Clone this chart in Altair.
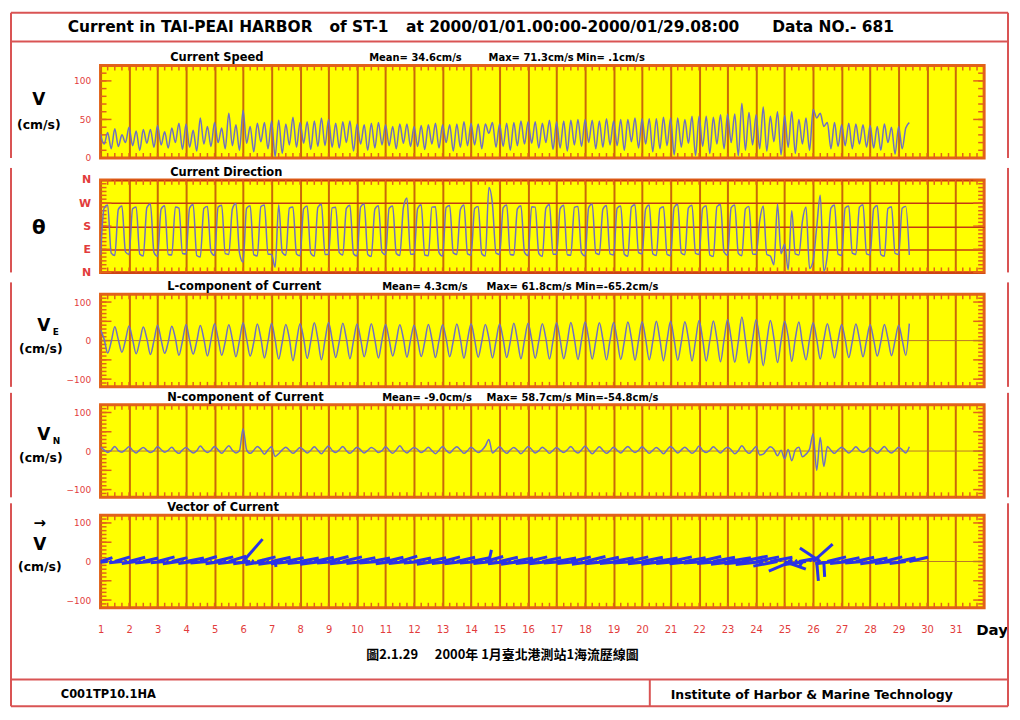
import altair as alt
import pandas as pd

# ---------------- data: 3-hourly samples from 2000/01/01 00:00, one row per day ----------------
SPEED_ROWS = [
    [31, 18, 33, 12, 38, 15, 30, 20],
    [40, 16, 35, 10, 37, 19, 37, 14],
    [42, 17, 34, 13, 39, 20, 45, 11],
    [44, 14, 36, 9, 52, 18, 41, 15],
    [46, 20, 39, 12, 58, 16, 43, 10],
    [62, 19, 41, 8, 45, 21, 46, 12],
    [48, 2, 49, 6, 44, 17, 53, 14],
    [46, 19, 47, 11, 48, 15, 52, 16],
    [50, 14, 45, 13, 47, 20, 48, 9],
    [44, 18, 43, 10, 45, 13, 46, 17],
    [43, 16, 41, 12, 44, 19, 44, 15],
    [41, 15, 42, 11, 43, 18, 45, 13],
    [43, 20, 43, 9, 44, 14, 47, 16],
    [45, 17, 44, 12, 44, 32, 46, 14],
    [44, 15, 45, 10, 46, 16, 48, 18],
    [47, 19, 47, 13, 45, 20, 49, 11],
    [47, 13, 48, 9, 49, 17, 50, 15],
    [50, 20, 49, 12, 48, 14, 51, 17],
    [48, 16, 50, 10, 50, 21, 52, 13],
    [51, 18, 51, 8, 51, 12, 53, 16],
    [52, 4, 52, 14, 50, 19, 54, 3],
    [54, 15, 54, 6, 53, 18, 56, 12],
    [57, 20, 57, 3, 71, 10, 59, 17],
    [56, 12, 66, 9, 54, 21, 60, 4],
    [55, 14, 60, 6, 50, 18, 52, 10],
    [63, 52, 58, 41, 46, 12, 46, 15],
    [43, 16, 45, 12, 44, 18, 43, 14],
    [42, 13, 41, 10, 44, 20, 40, 5],
    [41, 12, 39, 46],
]
DIR_ROWS = [
    [68, 250, 262, 75, 66, 245, 258, 80],
    [70, 248, 255, 72, 64, 252, 266, 78],
    [62, 246, 259, 70, 68, 255, 250, 74],
    [72, 251, 264, 66, 60, 249, 257, 80],
    [66, 254, 261, 73, 70, 247, 268, 76],
    [40, 250, 259, 69, 64, 256, 262, 71],
    [70, 20, 263, 78, 67, 250, 255, 72],
    [65, 247, 258, 75, 63, 253, 265, 70],
    [71, 251, 254, 77, 68, 249, 261, 73],
    [64, 255, 266, 70, 62, 246, 259, 79],
    [69, 250, 258, 74, 66, 252, 290, 71],
    [72, 248, 263, 68, 65, 254, 256, 77],
    [63, 253, 260, 76, 70, 245, 262, 72],
    [67, 249, 257, 73, 64, 330, 265, 75],
    [70, 251, 262, 70, 68, 247, 259, 78],
    [65, 256, 254, 74, 62, 250, 264, 71],
    [71, 248, 261, 69, 67, 253, 257, 76],
    [64, 252, 266, 75, 70, 246, 260, 72],
    [68, 250, 258, 71, 63, 255, 263, 77],
    [72, 247, 262, 73, 66, 249, 256, 70],
    [65, 253, 265, 76, 69, 251, 261, 74],
    [70, 249, 259, 68, 62, 256, 264, 79],
    [67, 252, 262, 74, 65, 247, 257, 72],
    [71, 200, 258, 70, 64, 30, 266, 73],
    [110, 10, 240, 72, 68, 200, 255, 15],
    [45, 175, 300, 5, 69, 250, 262, 71],
    [66, 251, 258, 75, 70, 254, 263, 72],
    [68, 248, 260, 70, 63, 249, 256, 74],
    [70, 250, 257, 68],
]
VE_ROWS = [
    [28, 4, -32, -3, 36, 2, -30, 1],
    [38, 3, -34, -2, 35, 5, -36, 0],
    [40, 2, -33, -4, 37, 6, -38, -1],
    [42, 1, -35, -2, 39, 4, -40, 2],
    [44, 5, -38, -3, 41, 3, -42, 0],
    [46, 4, -40, -5, 43, 6, -45, -2],
    [45, 2, -48, -4, 42, 5, -52, -3],
    [44, 6, -46, -2, 46, 4, -50, 1],
    [47, 3, -44, -3, 45, 5, -47, 0],
    [43, 4, -42, -1, 44, 2, -45, 2],
    [42, 3, -40, -2, 41, 5, -43, 1],
    [40, 2, -41, -3, 42, 4, -44, 0],
    [41, 5, -42, -1, 43, 3, -46, 2],
    [44, 2, -43, -2, 42, 6, -45, -1],
    [43, 4, -44, -3, 45, 2, -47, 1],
    [45, 3, -46, -2, 44, 5, -48, 0],
    [46, 2, -47, -4, 47, 4, -49, 2],
    [48, 5, -48, -1, 46, 3, -50, 1],
    [47, 3, -49, -3, 48, 6, -51, 0],
    [49, 4, -50, -2, 50, 2, -52, 1],
    [50, 2, -51, -4, 49, 5, -53, 0],
    [52, 3, -53, -1, 51, 4, -55, 2],
    [55, 5, -56, -3, 61, 2, -58, 1],
    [54, 3, -65, -2, 52, 6, -57, -1],
    [50, 10, -54, 5, 48, -8, -50, 3],
    [46, 4, -48, 2, 44, 3, -45, 0],
    [42, 3, -44, -2, 43, 4, -42, 1],
    [41, 2, -40, -3, 42, 5, -39, 0],
    [40, 2, -38, 44],
]
VN_ROWS = [
    [10, 3, -4, 2, 12, 1, -3, 4],
    [11, 2, -5, 3, 9, 2, -4, 1],
    [12, 4, -3, 2, 10, 0, -6, 3],
    [9, 2, -5, 1, 13, 3, -4, 2],
    [12, 3, -6, 4, 14, 2, -5, 1],
    [58, 3, -6, 2, 12, 4, -8, 3],
    [11, -14, -7, 3, 10, 2, -6, 1],
    [9, 3, -5, 2, 11, 2, -7, 4],
    [13, 2, -4, 3, 12, 1, -6, 2],
    [10, 3, -5, 2, 9, 4, -4, 1],
    [11, 2, -6, 3, 14, 2, -5, 3],
    [9, 4, -4, 2, 10, 1, -7, 2],
    [12, 2, -5, 4, 11, 3, -6, 1],
    [10, 3, -4, 2, 13, 30, -5, 3],
    [11, 2, -6, 3, 9, 2, -7, 2],
    [12, 4, -5, 1, 10, 3, -6, 2],
    [9, 2, -4, 3, 12, 1, -5, 3],
    [13, 3, -7, 2, 11, 2, -6, 1],
    [10, 2, -5, 4, 12, 3, -4, 2],
    [11, 3, -6, 2, 9, 2, -7, 3],
    [12, 4, -5, 3, 10, 2, -6, 1],
    [13, 2, -4, 2, 11, 3, -5, 4],
    [10, 3, -7, 1, 14, 2, -6, 2],
    [12, -10, -8, 3, 11, 4, -12, 2],
    [-20, 4, -25, 3, 10, -15, -8, 5],
    [45, -50, 35, -40, 12, 2, -6, 3],
    [10, 3, -5, 2, 11, 2, -4, 1],
    [9, 2, -6, 3, 12, 1, -5, 2],
    [10, 3, -5, 11],
]

DAY_TICKS = list(range(1, 32))
SPEED_TICKS = [0, 50, 100]
COMP_TICKS = [-100, 0, 100]
DIR_TICKS = [0, 90, 180, 270, 360]
DIR_NAMES = ["N", "E", "S", "W", "N"]

TITLE_PARTS = ["Current in TAI-PEAI HARBOR", "of ST-1",
               "at 2000/01/01.00:00-2000/01/29.08:00", "Data NO.- 681"]
PANEL_NAMES = ["Current Speed", "Current Direction", "L-component of Current",
               "N-component of Current", "Vector of Current"]
SPEED_STATS = ["Mean= 34.6cm/s", "Max= 71.3cm/s", "Min=  .1cm/s"]
VE_STATS = ["Mean= 4.3cm/s", "Max= 61.8cm/s", "Min=-65.2cm/s"]
VN_STATS = ["Mean= -9.0cm/s", "Max= 58.7cm/s", "Min=-54.8cm/s"]
CAPTION = ["圖2.1.29", "2000年 1月臺北港測站1海流歷線圖"]
FOOTER = ["C001TP10.1HA", "Institute of Harbor & Marine Technology"]


def flat(rows):
    return [v for r in rows for v in r]


speed, direction, ve, vn = flat(SPEED_ROWS), flat(DIR_ROWS), flat(VE_ROWS), flat(VN_ROWS)
t = [1 + i / 8 for i in range(len(speed))]
df = pd.DataFrame({"t": t, "speed": speed, "dir": direction, "ve": ve, "vn": vn})
ONE = pd.DataFrame({"a": [0]})

# ---------------- style ----------------
W, H = 888, 93
FONT = "DejaVu Sans"
YELLOW = "#ffff00"
EDGE = "#e2621a"
DAYLINE = "#c96a08"
DIRGRID = "#c43a12"
ZERO = "#b8782a"
LINE = "#6f6fc2"
STICK = "#2b33e6"
RED = "#e23c3c"
FRAME = "#d95454"
LEFT, RIGHT = -90, 912
TOPY = -53

XSC = alt.Scale(domain=[1, 32], nice=False, zero=False)
SP_SC = alt.Scale(domain=[0, 120], nice=False, zero=False)
DIR_SC = alt.Scale(domain=[0, 360], nice=False, zero=False)
COMP_SC = alt.Scale(domain=[-120, 120], nice=False, zero=False)


def xaxis(labels=False):
    return alt.Axis(values=DAY_TICKS, grid=True, gridColor=DAYLINE, gridWidth=2, gridOpacity=1,
                    labels=labels, ticks=False, tickSize=0, domain=False, title=None,
                    labelColor=RED, labelFontSize=10, labelPadding=17, labelFlush=False,
                    labelFont=FONT)


def yaxis(values, expr=None, bold=False, size=9, grid=False):
    kw = dict(values=values, grid=grid, ticks=False, tickSize=0, domain=False, title=None,
              labelColor=RED, labelFontSize=size, labelPadding=10, labelFont=FONT)
    if expr:
        kw["labelExpr"] = expr
    if bold:
        kw["labelFontWeight"] = "bold"
    if grid:
        kw.update(gridColor=DIRGRID, gridWidth=1.5, gridOpacity=1)
    return alt.Axis(**kw)


def txt(s, x, y, size=11.5, color="black", weight="bold", align="left", font=FONT):
    return alt.Chart(ONE).mark_text(text=s, align=align, baseline="middle", fontSize=size,
                                    fontWeight=weight, color=color, font=font).encode(
        x=alt.value(x), y=alt.value(y))


def vrule(x, y1, y2, color=FRAME, w=2):
    return alt.Chart(ONE).mark_rule(color=color, strokeWidth=w).encode(
        x=alt.value(x), y=alt.value(y1), y2=alt.value(y2))


def hrule(y, x1, x2, color=FRAME, w=2):
    return alt.Chart(ONE).mark_rule(color=color, strokeWidth=w).encode(
        y=alt.value(y), x=alt.value(x1), x2=alt.value(x2))


def xminor(xax):
    seq = alt.sequence(1, 32.01, 0.25, as_="m")
    top = alt.Chart(seq).mark_rule(color=EDGE, strokeWidth=1.5).encode(
        x=alt.X("m:Q", scale=XSC, axis=xax), y=alt.value(0), y2=alt.value(5))
    bot = alt.Chart(seq).mark_rule(color=EDGE, strokeWidth=1.5).encode(
        x=alt.X("m:Q", scale=XSC, axis=xax), y=alt.value(H - 5), y2=alt.value(H))
    return [top, bot]


def yminor(scale, yax, lo, hi, step, llo, lhi, lstep):
    out = []
    for (a, b, s, ln) in [(lo, hi, step, 6), (llo, lhi, lstep, 11)]:
        seq = alt.sequence(a, b + 0.01, s, as_="m")
        out.append(alt.Chart(seq).mark_rule(color=EDGE, strokeWidth=1.5).encode(
            y=alt.Y("m:Q", scale=scale, axis=yax), x=alt.value(0), x2=alt.value(ln)))
        out.append(alt.Chart(seq).mark_rule(color=EDGE, strokeWidth=1.5).encode(
            y=alt.Y("m:Q", scale=scale, axis=yax), x=alt.value(W - ln), x2=alt.value(W)))
    return out


def zero_line(yax):
    return alt.Chart(ONE).transform_calculate(z="0").mark_rule(color=ZERO, strokeWidth=1).encode(
        y=alt.Y("z:Q", scale=COMP_SC, axis=yax))


def sides(y1, y2):
    return [vrule(LEFT, y1, y2), vrule(RIGHT, y1, y2)]


def stats(parts, xs):
    return [txt(p, x, -7, size=10) for p, x in zip(parts, xs)]


base = alt.Chart(df)
MID_TOP, MID_BOT = -12, H + 0

# ---- panel 1: speed ----
xa, ya = xaxis(), yaxis(SPEED_TICKS)
l_speed = base.mark_line(color=LINE, strokeWidth=1.5, interpolate="monotone", clip=True).encode(
    x=alt.X("t:Q", scale=XSC, axis=xa), y=alt.Y("speed:Q", scale=SP_SC, axis=ya))
p1 = alt.layer(
    *xminor(xa), *yminor(SP_SC, ya, 0, 120, 10, 0, 100, 50), l_speed,
    txt(PANEL_NAMES[0], 70, -7), *stats(SPEED_STATS, [270, 390, 478]),
    txt("V", -62, 35, size=17, align="center"), txt("(cm/s)", -62, 60, size=12.5, align="center"),
    hrule(TOPY, LEFT, RIGHT), hrule(-24, LEFT, RIGHT),
    txt(TITLE_PARTS[0], -33, -39, size=15.5), txt(TITLE_PARTS[1], 230, -39, size=15.5),
    txt(TITLE_PARTS[2], 307, -39, size=15.5), txt(TITLE_PARTS[3], 675, -39, size=15.5),
    *sides(TOPY, MID_BOT),
).properties(width=W, height=H)

# ---- panel 2: direction ----
dir_expr = " : ".join(f"datum.value == {v} ? '{n}'" for v, n in zip(DIR_TICKS, DIR_NAMES)) + " : ''"
xa, ya = xaxis(), yaxis(DIR_TICKS, expr=dir_expr, bold=True, size=11, grid=True)
l_dir = base.mark_line(color=LINE, strokeWidth=1.5, interpolate="monotone", clip=True).encode(
    x=alt.X("t:Q", scale=XSC, axis=xa), y=alt.Y("dir:Q", scale=DIR_SC, axis=ya))
p2 = alt.layer(
    *xminor(xa), *yminor(DIR_SC, ya, 0, 360, 15, 0, 360, 90), l_dir,
    txt(PANEL_NAMES[1], 70, -7),
    txt("θ", -62, 48, size=20, align="center"),
    *sides(MID_TOP, MID_BOT),
).properties(width=W, height=H)

# ---- panel 3: east component ----
xa, ya = xaxis(), yaxis(COMP_TICKS)
l_ve = base.mark_line(color=LINE, strokeWidth=1.5, interpolate="monotone", clip=True).encode(
    x=alt.X("t:Q", scale=XSC, axis=xa), y=alt.Y("ve:Q", scale=COMP_SC, axis=ya))
p3 = alt.layer(
    *xminor(xa), *yminor(COMP_SC, ya, -120, 120, 10, -100, 100, 50), zero_line(ya), l_ve,
    txt(PANEL_NAMES[2], 67, -7), *stats(VE_STATS, [283, 388, 477]),
    txt("V", -57, 32, size=17, align="center"), txt("E", -48, 38, size=9),
    txt("(cm/s)", -60, 55, size=12.5, align="center"),
    *sides(MID_TOP, MID_BOT),
).properties(width=W, height=H)

# ---- panel 4: north component ----
xa, ya = xaxis(), yaxis(COMP_TICKS)
l_vn = base.mark_line(color=LINE, strokeWidth=1.5, interpolate="monotone", clip=True).encode(
    x=alt.X("t:Q", scale=XSC, axis=xa), y=alt.Y("vn:Q", scale=COMP_SC, axis=ya))
p4 = alt.layer(
    *xminor(xa), *yminor(COMP_SC, ya, -120, 120, 10, -100, 100, 50), zero_line(ya), l_vn,
    txt(PANEL_NAMES[3], 67, -7), *stats(VN_STATS, [283, 388, 477]),
    txt("V", -57, 30, size=17, align="center"), txt("N", -48, 36, size=9),
    txt("(cm/s)", -60, 54, size=12.5, align="center"),
    *sides(MID_TOP, MID_BOT),
).properties(width=W, height=H)

# ---- panel 5: current vectors (stick plot) ----
K = 1.1 * (H / 240) / (W / 31)   # days per cm/s for the horizontal stick component
xa, ya = xaxis(True), yaxis(COMP_TICKS)
sticks = base.transform_calculate(z="0", xe=f"datum.t + datum.ve * {K}").mark_rule(
    color=STICK, strokeWidth=3, clip=True).encode(
    x=alt.X("t:Q", scale=XSC, axis=xa), x2="xe:Q",
    y=alt.Y("z:Q", scale=COMP_SC, axis=ya), y2="vn:Q")
p5 = alt.layer(
    *xminor(xa), *yminor(COMP_SC, ya, -120, 120, 10, -100, 100, 50), zero_line(ya), sticks,
    txt(PANEL_NAMES[4], 67, -7),
    txt("→", -61, 8, size=15, align="center"), txt("V", -61, 30, size=17, align="center"),
    txt("(cm/s)", -61, 52, size=12.5, align="center"),
    txt("Day", 880, 115, size=15),
    txt(CAPTION[0], 267, 140, size=13, weight="bold", font="Noto Sans CJK TC"),
    txt(CAPTION[1], 336, 140, size=13, weight="bold", font="Noto Sans CJK TC"),
    hrule(165, LEFT, RIGHT), vrule(552, 165, 192), hrule(192, LEFT, RIGHT),
    txt(FOOTER[0], -40, 181, size=11.5), txt(FOOTER[1], 573, 181, size=12.5),
    *sides(MID_TOP, 192),
).properties(width=W, height=H)

chart = alt.vconcat(p1, p2, p3, p4, p5, spacing=0).properties(
    padding={"left": 0, "top": 0, "right": 1, "bottom": 1}, background="white"
).configure_view(fill=YELLOW, stroke=EDGE, strokeWidth=3).configure_axis(labelFont=FONT)

chart.save("out.html", embed_options={"renderer": "svg", "actions": False})
